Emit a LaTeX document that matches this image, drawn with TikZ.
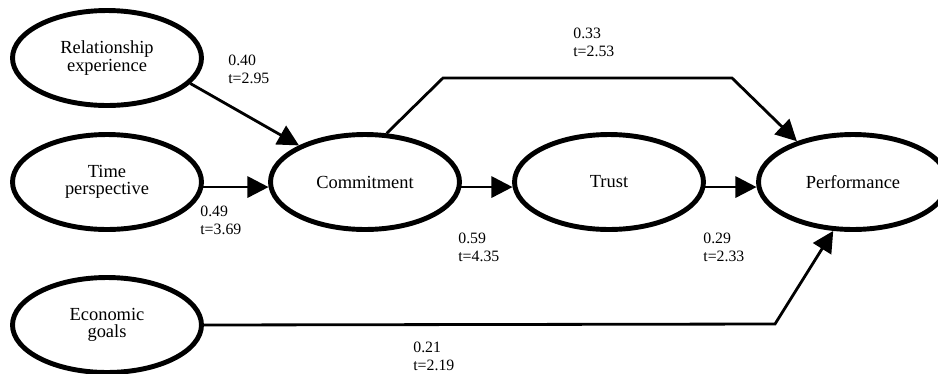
\documentclass[tikz,border=0pt]{standalone}
\usepackage{fontspec}
\setmainfont{Liberation Serif}
\usetikzlibrary{arrows.meta, shapes.geometric, positioning}

\begin{document}
\begin{tikzpicture}[x=0.02cm, y=-0.02cm,
    construct/.style={ellipse, draw, line width=2.8pt, minimum width=3.78cm,
        minimum height=1.9cm, inner sep=0pt, align=center,
        font=\fontsize{10.5}{9.8}\selectfont},
    path/.style={line width=1.6pt, -{Triangle[length=12pt, width=12pt]}},
    coef/.style={anchor=north west, inner sep=0pt, align=left,
        font=\fontsize{9}{10.2}\selectfont}]

    % =================================================================
    % 1. KHUNG HINH
    % =================================================================
    \useasboundingbox (0,0) rectangle (938,373);

    % =================================================================
    % 2. CAC KHAI NIEM (HINH ELIP)
    % =================================================================
    \node[construct] (rel) at (107,58) {Relationship\\experience};
    \node[construct] (time) at (107,182) {Time\\perspective};
    \node[construct] (eco) at (107,325) {Economic\\goals};
    \node[construct] (com) at (365,182) {Commitment};
    \node[construct] (trust) at (609,182) {Trust};
    \node[construct] (perf) at (853,182) {Performance};

    % Diem gay cua cac duong vong
    \coordinate (TopLeft) at (443,78);
    \coordinate (TopRight) at (732,78);
    \coordinate (LowBend) at (775,324);

    % =================================================================
    % 3. CAC DUONG TAC DONG
    % =================================================================
    \draw[path] (rel.-17) -- (com.151);
    \draw[path] (time.-3.5) -- (com.183.5);
    \draw[path] (com.-3.5) -- (trust.183.5);
    \draw[path] (trust.-3.5) -- (perf.183.5);
    \draw[path] (com.66) -- (TopLeft) -- (TopRight) -- (perf.144);
    \draw[path] (eco.east) -- (LowBend) -- (perf.248);

    % =================================================================
    % 4. HE SO VA GIA TRI t
    % =================================================================
    \node[coef] (c40) at (228,55) {0.40\\t=2.95};
    \node[coef] (c49) at (200,206) {0.49\\t=3.69};
    \node[coef] (c59) at (458,233) {0.59\\t=4.35};
    \node[coef] (c29) at (703,233) {0.29\\t=2.33};
    \node[coef] (c33) at (573,28) {0.33\\t=2.53};
    \node[coef] (c21) at (413,342) {0.21\\t=2.19};

\end{tikzpicture}
\end{document}
